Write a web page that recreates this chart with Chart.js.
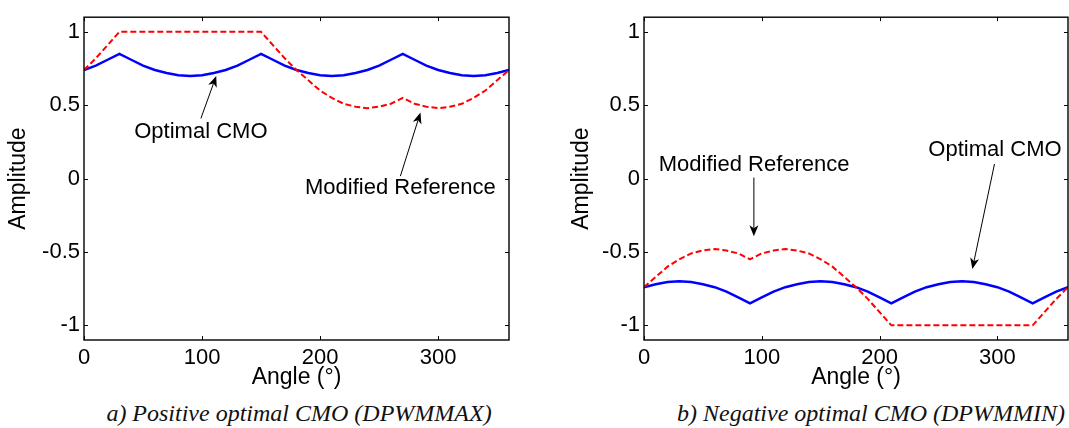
<!DOCTYPE html>
<html lang="en">
<head>
<meta charset="UTF-8" />
<title>optimal CMO</title>
<script src="https://cdn.jsdelivr.net/npm/chart.js"></script>
<style>
  body {
    margin: 0;
    background: #fff;
    width: 1069px;
    height: 428px;
    position: relative;
    overflow: hidden;
  }
  .box { position: absolute; top: 0; }
  #boxA { left: 0; }
  #boxB { left: 560px; }
  .caption {
    position: absolute;
    top: 401px;
    font-family: "Liberation Serif", "Times New Roman", serif;
    font-style: italic;
    font-size: 24px;
    line-height: 24px;
    white-space: nowrap;
    color: #111;
    transform: translateX(-50%);
  }
</style>
</head>
<body>
<div class="box" id="boxA"><canvas id="chartA" width="535" height="395"></canvas></div>
<div class="box" id="boxB"><canvas id="chartB" width="509" height="395"></canvas></div>
<div class="caption" style="left:299px">a) Positive optimal CMO (DPWMMAX)</div>
<div class="caption" style="left:871px">b) Negative optimal CMO (DPWMMIN)</div>

<script>
// angle in degrees, one point every 10 degrees
const angles = [0, 10, 20, 30, 40, 50, 60, 70, 80, 90, 100, 110, 120, 130, 140, 150, 160, 170, 180,
  190, 200, 210, 220, 230, 240, 250, 260, 270, 280, 290, 300, 310, 320, 330, 340, 350, 360];

// a) DPWMMAX
const cmoMax = [0.74, 0.77, 0.81, 0.85, 0.81, 0.77, 0.74, 0.72, 0.705, 0.70, 0.705, 0.72, 0.74,
  0.77, 0.81, 0.85, 0.81, 0.77, 0.74, 0.72, 0.705, 0.70, 0.705, 0.72, 0.74, 0.77, 0.81, 0.85,
  0.81, 0.77, 0.74, 0.72, 0.705, 0.70, 0.705, 0.72, 0.74];
const refMax = [0.74, 0.82, 0.91, 1, 1, 1, 1, 1, 1, 1, 1, 1, 1, 1, 1, 1, 0.91, 0.82, 0.74,
  0.67, 0.60, 0.55, 0.51, 0.49, 0.48, 0.49, 0.51, 0.55, 0.51, 0.49, 0.48, 0.49, 0.51, 0.55,
  0.60, 0.67, 0.74];

// b) DPWMMIN
const cmoMin = [-0.74, -0.72, -0.705, -0.70, -0.705, -0.72, -0.74, -0.77, -0.81, -0.85, -0.81,
  -0.77, -0.74, -0.72, -0.705, -0.70, -0.705, -0.72, -0.74, -0.77, -0.81, -0.85, -0.81, -0.77,
  -0.74, -0.72, -0.705, -0.70, -0.705, -0.72, -0.74, -0.77, -0.81, -0.85, -0.81, -0.77, -0.74];
const refMin = [-0.74, -0.67, -0.60, -0.55, -0.51, -0.49, -0.48, -0.49, -0.51, -0.55, -0.51,
  -0.49, -0.48, -0.49, -0.51, -0.55, -0.60, -0.67, -0.74, -0.82, -0.91, -1, -1, -1, -1, -1,
  -1, -1, -1, -1, -1, -1, -1, -1, -0.91, -0.82, -0.74];

const xTicks = [0, 100, 200, 300];
const yTicks = [-1, -0.5, 0, 0.5, 1];

// text labels with arrows (data coordinates)
const notesA = [
  { text: "Optimal CMO", at: [99, 0.318], from: [99, 0.41], to: [112, 0.70] },
  { text: "Modified Reference", at: [268, -0.065], from: [268, 0.017], to: [285, 0.45] },
];
const notesB = [
  { text: "Modified Reference", at: [93.5, 0.095], from: [93.3, 0.007], to: [93.3, -0.393] },
  { text: "Optimal CMO", at: [298, 0.195], from: [297.6, 0.10], to: [278.8, -0.616] },
];

const SANS = "'Liberation Sans', Arial, sans-serif";

// MATLAB-like box with inward ticks on all sides
const frame = {
  id: "frame",
  afterDatasetsDraw(chart) {
    const { ctx, chartArea: a, scales: { x, y } } = chart;
    ctx.save();
    ctx.strokeStyle = "#000";
    ctx.lineWidth = 1;
    ctx.beginPath();
    xTicks.forEach((v) => {
      const px = Math.round(x.getPixelForValue(v)) + 0.5;
      ctx.moveTo(px, a.bottom); ctx.lineTo(px, a.bottom - 4);
      ctx.moveTo(px, a.top); ctx.lineTo(px, a.top + 4);
    });
    yTicks.forEach((v) => {
      const py = Math.round(y.getPixelForValue(v)) + 0.5;
      ctx.moveTo(a.left, py); ctx.lineTo(a.left + 4, py);
      ctx.moveTo(a.right, py); ctx.lineTo(a.right - 4, py);
    });
    ctx.stroke();
    ctx.lineWidth = 1.4;
    ctx.strokeRect(a.left, a.top, a.right - a.left, a.bottom - a.top);
    ctx.restore();
  },
};

function arrow(ctx, x0, y0, x1, y1) {
  const ang = Math.atan2(y1 - y0, x1 - x0);
  const len = 11, wid = 4.5, back = 8;
  const c = Math.cos(ang), s = Math.sin(ang);
  ctx.beginPath();
  ctx.moveTo(x0, y0);
  ctx.lineTo(x1 - c * back, y1 - s * back);
  ctx.stroke();
  ctx.beginPath();
  ctx.moveTo(x1, y1);
  ctx.lineTo(x1 - c * len - s * wid, y1 - s * len + c * wid);
  ctx.lineTo(x1 - c * back, y1 - s * back);
  ctx.lineTo(x1 - c * len + s * wid, y1 - s * len - c * wid);
  ctx.closePath();
  ctx.fill();
}

function notesPlugin(items) {
  return {
    id: "notes",
    afterDraw(chart) {
      const { ctx, scales: { x, y } } = chart;
      ctx.save();
      ctx.fillStyle = "#000";
      ctx.strokeStyle = "#000";
      ctx.lineWidth = 1;
      ctx.font = "22px " + SANS;
      ctx.textAlign = "center";
      ctx.textBaseline = "middle";
      items.forEach((n) => {
        ctx.fillText(n.text, x.getPixelForValue(n.at[0]), y.getPixelForValue(n.at[1]));
        arrow(ctx,
          x.getPixelForValue(n.from[0]), y.getPixelForValue(n.from[1]),
          x.getPixelForValue(n.to[0]), y.getPixelForValue(n.to[1]));
      });
      ctx.restore();
    },
  };
}

function makeChart(id, cmo, ref, notes, padRight, titlePad) {
  const pts = (vals) => angles.map((a, i) => ({ x: a, y: vals[i] }));
  return new Chart(document.getElementById(id), {
    type: "line",
    data: {
      datasets: [
        {
          label: "Modified Reference",
          data: pts(ref),
          borderColor: "#ff0000",
          borderWidth: 2,
          borderDash: [6, 3],
          pointRadius: 0,
          tension: 0,
        },
        {
          label: "Optimal CMO",
          data: pts(cmo),
          borderColor: "#0000ff",
          borderWidth: 2.5,
          pointRadius: 0,
          tension: 0,
        },
      ],
    },
    options: {
      responsive: false,
      animation: false,
      events: [],
      layout: { padding: { top: 9, right: padRight, left: 0, bottom: 0 } },
      plugins: { legend: { display: false }, tooltip: { enabled: false } },
      scales: {
        x: {
          type: "linear",
          min: 0,
          max: 360,
          afterBuildTicks: (s) => { s.ticks = xTicks.map((v) => ({ value: v })); },
          afterFit: (s) => { s.height = 55; },
          grid: { display: false, drawTicks: false },
          border: { display: false },
          ticks: { color: "#000", padding: 5, font: { family: SANS, size: 22 }, callback: (v) => String(v) },
          title: { display: true, text: "Angle (°)", color: "#000", padding: { top: 0, bottom: 4 }, font: { family: SANS, size: 23 } },
        },
        y: {
          min: -1.1,
          max: 1.1,
          afterBuildTicks: (s) => { s.ticks = yTicks.map((v) => ({ value: v })); },
          afterFit: (s) => { s.width = 84; },
          grid: { display: false, drawTicks: false },
          border: { display: false },
          ticks: { color: "#000", padding: 4, font: { family: SANS, size: 22 }, callback: (v) => String(v) },
          title: { display: true, text: "Amplitude", color: "#000", padding: { top: titlePad, bottom: 0 }, font: { family: SANS, size: 23 } },
        },
      },
    },
    plugins: [frame, notesPlugin(notes)],
  });
}

makeChart("chartA", cmoMax, refMax, notesA, 26, 5);
makeChart("chartB", cmoMin, refMin, notesB, 1, 8);
</script>
</body>
</html>
